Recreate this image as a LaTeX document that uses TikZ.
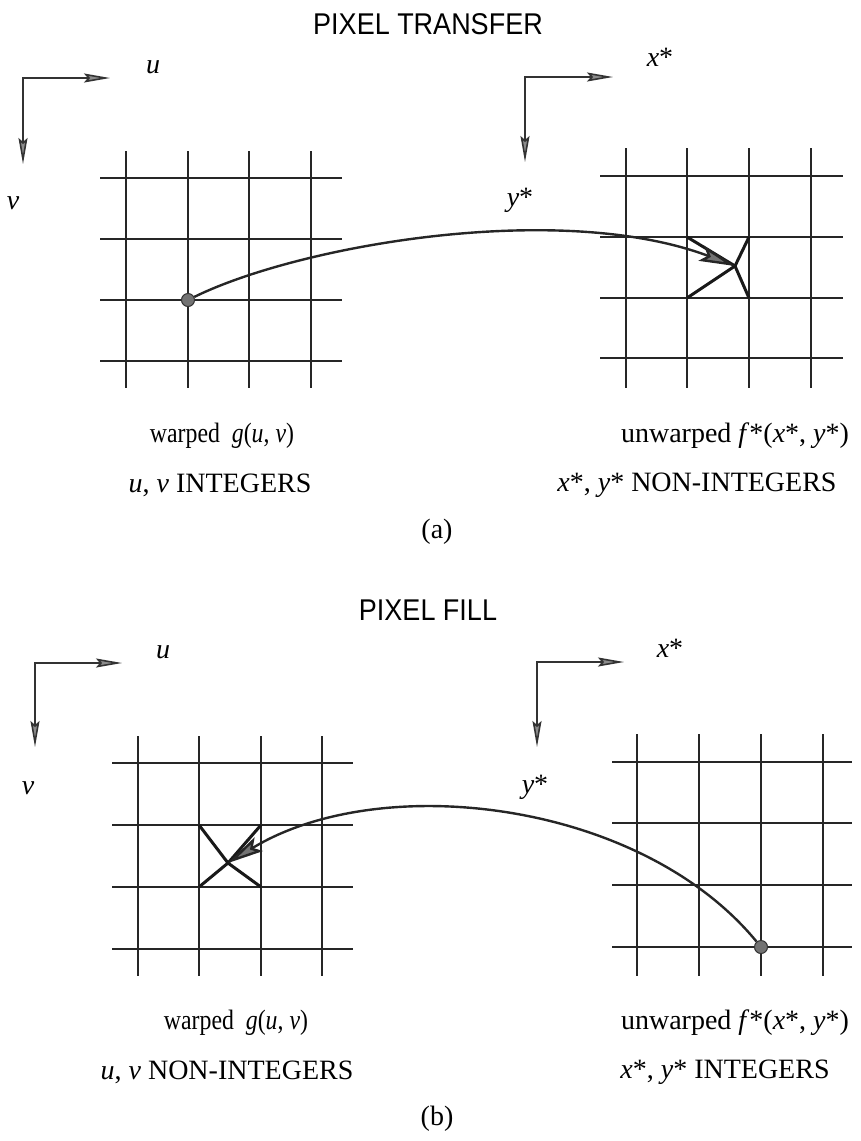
\documentclass[tikz,border=0pt]{standalone}
\usepackage{fontspec}
\usepackage{graphicx}
\setmainfont{Liberation Serif}
\newfontfamily\headfont{Liberation Sans}
\usetikzlibrary{arrows.meta}

\begin{document}
\begin{tikzpicture}[
  x=1pt, y=-1pt,
  gline/.style={line width=2.2pt, black!85},
  axis/.style={line width=1.6pt, black!80, line join=miter,
    {Stealth[length=26pt, width=9pt, inset=4pt, fill=black!45]}-{Stealth[length=26pt, width=9pt, inset=4pt, fill=black!45]}},
  warp/.style={line width=2.4pt, black!85, -{Stealth[length=36pt, width=16pt, inset=7pt, fill=black!55]}},
  quad/.style={line width=3pt, black!90},
  dot/.style={circle, draw=black!80, fill=black!55, line width=1pt, inner sep=0pt, minimum size=13pt},
  ttl/.style={font=\headfont\fontsize{30}{36}\selectfont, inner sep=0pt},
  lbl/.style={font=\fontsize{28}{34}\selectfont, inner sep=0pt},
]
\useasboundingbox (0,0) rectangle (860,1141);

% (a) pixel transfer
\node[ttl] (titleA) at (428,24) {\scalebox{0.9}[1]{PIXEL TRANSFER}};

\coordinate (oA) at (23,78);
\coordinate (oAx) at (110,78);
\coordinate (oAy) at (23,164);
\draw[axis] (oAx) -- (oA) -- (oAy);
\node[lbl] (uA) at (153,67) {\textit{u}};
\node[lbl] (vA) at (13,203) {\textit{v}};

\coordinate (pA) at (525,77);
\coordinate (pAx) at (613,77);
\coordinate (pAy) at (525,162);
\draw[axis] (pAx) -- (pA) -- (pAy);
\node[lbl] (xA) at (660,57) {\textit{x}*};
\node[lbl] (yA) at (520,200) {\textit{y}*};

\foreach \x in {126,188,249,311} \draw[gline] (\x,151) -- (\x,388);
\foreach \y in {178,239,300,361} \draw[gline] (100,\y) -- (342,\y);
\foreach \x in {626,687,749,811} \draw[gline] (\x,148) -- (\x,388);
\foreach \y in {176,237,298,358} \draw[gline] (600,\y) -- (843,\y);

\coordinate (tipA) at (735,266);
\foreach \c in {(687,237),(687,298),(749,237),(749,298)} \draw[quad] \c -- (tipA);

\node[dot] (srcA) at (188,300) {};
\draw[warp] (srcA) .. controls (300,245) and (560,200) .. (tipA);

\node[lbl] (gA) at (222,436) {\scalebox{0.85}[1]{warped\ \ \textit{g}(\textit{u}, \textit{v})}};
\node[lbl] (intA) at (220,485) {\textit{u}, \textit{v} INTEGERS};
\node[lbl] (fA) at (735,436) {unwarped \textit{f}*(\textit{x}*, \textit{y}*)};
\node[lbl] (nintA) at (697,485) {\textit{x}*, \textit{y}* NON-INTEGERS};
\node[lbl] (capA) at (437,532) {(a)};

% (b) pixel fill
\node[ttl] (titleB) at (428,610) {\scalebox{0.9}[1]{PIXEL FILL}};

\coordinate (oB) at (35,663);
\coordinate (oBx) at (122,663);
\coordinate (oBy) at (35,747);
\draw[axis] (oBx) -- (oB) -- (oBy);
\node[lbl] (uB) at (163,652) {\textit{u}};
\node[lbl] (vB) at (28,788) {\textit{v}};

\coordinate (pB) at (537,662);
\coordinate (pBx) at (624,662);
\coordinate (pBy) at (537,747);
\draw[axis] (pBx) -- (pB) -- (pBy);
\node[lbl] (xB) at (670,648) {\textit{x}*};
\node[lbl] (yB) at (535,787) {\textit{y}*};

\foreach \x in {138,199,261,322} \draw[gline] (\x,736) -- (\x,976);
\foreach \y in {763,825,887,949} \draw[gline] (112,\y) -- (353,\y);
\foreach \x in {637,699,761,823} \draw[gline] (\x,734) -- (\x,976);
\foreach \y in {762,823,885,947} \draw[gline] (612,\y) -- (852,\y);

\coordinate (tipB) at (228,863);
\foreach \c in {(199,825),(199,887),(261,825),(261,887)} \draw[quad] \c -- (tipB);

\node[dot] (srcB) at (761,947) {};
\draw[warp] (srcB) .. controls (640,800) and (380,770) .. (tipB);

\node[lbl] (gB) at (236,1023) {\scalebox{0.85}[1]{warped\ \ \textit{g}(\textit{u}, \textit{v})}};
\node[lbl] (intB) at (227,1072) {\textit{u}, \textit{v} NON-INTEGERS};
\node[lbl] (fB) at (735,1023) {unwarped \textit{f}*(\textit{x}*, \textit{y}*)};
\node[lbl] (nintB) at (725,1072) {\textit{x}*, \textit{y}* INTEGERS};
\node[lbl] (capB) at (437,1119) {(b)};
\end{tikzpicture}
\end{document}
